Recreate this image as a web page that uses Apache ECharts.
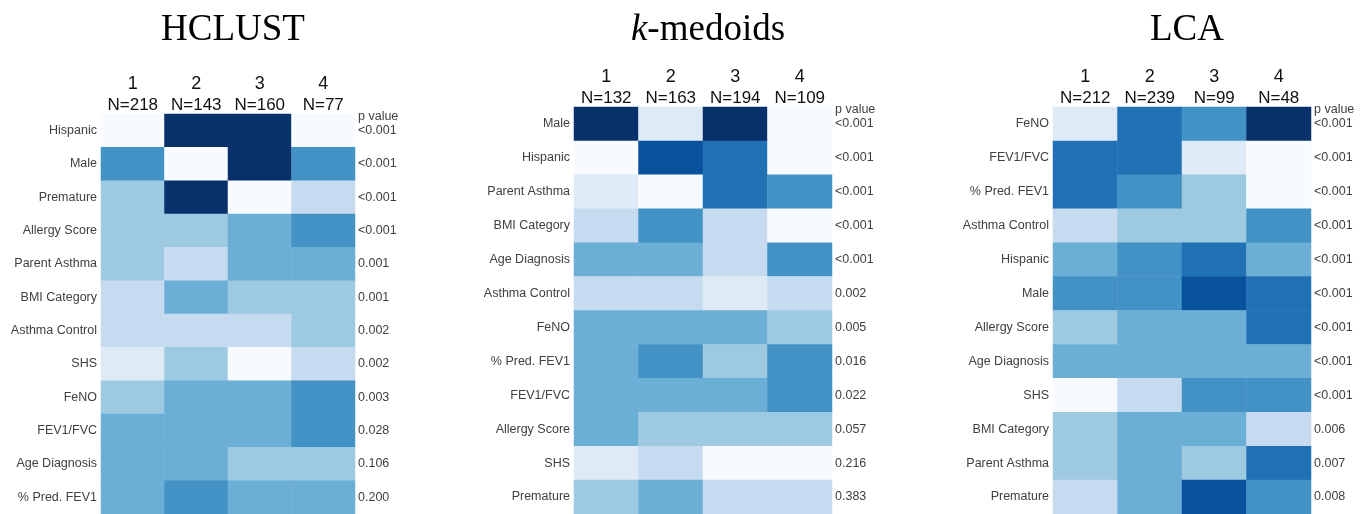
<!DOCTYPE html>
<html>
<head>
<meta charset="utf-8">
<script src="https://cdn.jsdelivr.net/npm/echarts@6/dist/echarts.min.js"></script>
<style>
  html, body { margin: 0; padding: 0; background: #fff; }
  #chart { width: 1368px; height: 514px; }
</style>
</head>
<body>
<div id="chart"></div>
<script>
// Blues palette, level 0 (lightest) .. 8 (darkest)
const blues = ['#f7fbff', '#deebf7', '#c6dbef', '#9ecae1', '#6baed6', '#4292c6', '#2171b5', '#08519c', '#08306b']

const clusters = ['1', '2', '3', '4']

// HCLUST
const hcN = ['N=218', 'N=143', 'N=160', 'N=77']
const hcRows = ['Hispanic', 'Male', 'Premature', 'Allergy Score', 'Parent Asthma', 'BMI Category',
  'Asthma Control', 'SHS', 'FeNO', 'FEV1/FVC', 'Age Diagnosis', '% Pred. FEV1']
const hcLevels = [
  [0, 8, 8, 0],
  [5, 0, 8, 5],
  [3, 8, 0, 2],
  [3, 3, 4, 5],
  [3, 2, 4, 4],
  [2, 4, 3, 3],
  [2, 2, 2, 3],
  [1, 3, 0, 2],
  [3, 4, 4, 5],
  [4, 4, 4, 5],
  [4, 4, 3, 3],
  [4, 5, 4, 4]
]
const hcP = ['<0.001', '<0.001', '<0.001', '<0.001', '0.001', '0.001', '0.002', '0.002', '0.003', '0.028', '0.106', '0.200']

// k-medoids
const kmN = ['N=132', 'N=163', 'N=194', 'N=109']
const kmRows = ['Male', 'Hispanic', 'Parent Asthma', 'BMI Category', 'Age Diagnosis', 'Asthma Control',
  'FeNO', '% Pred. FEV1', 'FEV1/FVC', 'Allergy Score', 'SHS', 'Premature']
const kmLevels = [
  [8, 1, 8, 0],
  [0, 7, 6, 0],
  [1, 0, 6, 5],
  [2, 5, 2, 0],
  [4, 4, 2, 5],
  [2, 2, 1, 2],
  [4, 4, 4, 3],
  [4, 5, 3, 5],
  [4, 4, 4, 5],
  [4, 3, 3, 3],
  [1, 2, 0, 0],
  [3, 4, 2, 2]
]
const kmP = ['<0.001', '<0.001', '<0.001', '<0.001', '<0.001', '0.002', '0.005', '0.016', '0.022', '0.057', '0.216', '0.383']

// LCA
const lcaN = ['N=212', 'N=239', 'N=99', 'N=48']
const lcaRows = ['FeNO', 'FEV1/FVC', '% Pred. FEV1', 'Asthma Control', 'Hispanic', 'Male',
  'Allergy Score', 'Age Diagnosis', 'SHS', 'BMI Category', 'Parent Asthma', 'Premature']
const lcaLevels = [
  [1, 6, 5, 8],
  [6, 6, 1, 0],
  [6, 5, 3, 0],
  [2, 3, 3, 5],
  [4, 5, 6, 4],
  [5, 5, 7, 6],
  [3, 4, 4, 6],
  [4, 4, 4, 4],
  [0, 2, 5, 5],
  [3, 4, 4, 2],
  [3, 4, 3, 6],
  [2, 4, 7, 5]
]
const lcaP = ['<0.001', '<0.001', '<0.001', '<0.001', '<0.001', '<0.001', '<0.001', '<0.001', '<0.001', '0.006', '0.007', '0.008']

const panels = [
  {title: 'HCLUST', ns: hcN, rows: hcRows, levels: hcLevels, p: hcP,
    grid: {left: 101, top: 114, width: 254, height: 400}},
  {title: '{i|k}-medoids', ns: kmN, rows: kmRows, levels: kmLevels, p: kmP,
    grid: {left: 574, top: 107, width: 258, height: 407}},
  {title: 'LCA', ns: lcaN, rows: lcaRows, levels: lcaLevels, p: lcaP,
    grid: {left: 1053, top: 107, width: 258, height: 407}}
]

const chart = echarts.init(document.getElementById('chart'))

const grids = [], xAxes = [], yAxes = [], series = [], titles = [], graphics = []

panels.forEach((pn, k) => {
  grids.push(pn.grid)

  xAxes.push({
    type: 'category',
    gridIndex: k,
    position: 'top',
    data: clusters,
    axisLine: {show: false},
    axisTick: {show: false},
    splitLine: {show: false},
    axisLabel: {
      interval: 0,
      margin: -2,
      formatter: (v, i) => '{c|' + v + '}\n{n|' + pn.ns[i] + '}',
      rich: {
        c: {fontFamily: 'Liberation Sans', fontSize: 18, color: '#111', lineHeight: 21},
        n: {fontFamily: 'Liberation Sans', fontSize: 17, color: '#111', lineHeight: 21}
      }
    }
  })

  yAxes.push({
    type: 'category',
    gridIndex: k,
    inverse: true,
    data: pn.rows,
    axisLine: {show: false},
    axisTick: {show: false},
    splitLine: {show: false},
    axisLabel: {interval: 0, margin: 4, fontFamily: 'Liberation Sans', fontSize: 12.5, color: '#404040'}
  })
  yAxes.push({
    type: 'category',
    gridIndex: k,
    position: 'right',
    inverse: true,
    data: pn.rows,
    axisLine: {show: false},
    axisTick: {show: false},
    splitLine: {show: false},
    axisLabel: {
      interval: 0,
      margin: 3,
      fontFamily: 'Liberation Sans', fontSize: 12.5, color: '#404040',
      formatter: (v, i) => pn.p[i]
    }
  })

  const data = []
  pn.levels.forEach((row, r) => row.forEach((lv, c) => data.push([c, r, lv])))
  series.push({
    type: 'heatmap',
    xAxisIndex: k,
    yAxisIndex: k * 2,
    data: data,
    itemStyle: {borderWidth: 0}
  })

  titles.push({
    text: pn.title,
    left: pn.grid.left + pn.grid.width / 2,
    textAlign: 'center',
    top: 7,
    textStyle: {
      fontFamily: 'Liberation Serif', fontSize: 37, fontWeight: 'normal', color: '#000',
      rich: {i: {fontFamily: 'Liberation Serif', fontSize: 37, fontStyle: 'italic', color: '#000'}}
    }
  })

  graphics.push({
    type: 'text',
    left: pn.grid.left + pn.grid.width + 3,
    top: pn.grid.top - 4,
    style: {text: 'p value', fontFamily: 'Liberation Sans', fontSize: 12.5, fill: '#404040'}
  })
})

chart.setOption({
  animation: false,
  title: titles,
  grid: grids,
  xAxis: xAxes,
  yAxis: yAxes,
  visualMap: {
    type: 'piecewise',
    show: false,
    dimension: 2,
    seriesIndex: [0, 1, 2],
    pieces: blues.map((c, i) => ({value: i, color: c}))
  },
  series: series,
  graphic: graphics
})
</script>
</body>
</html>
